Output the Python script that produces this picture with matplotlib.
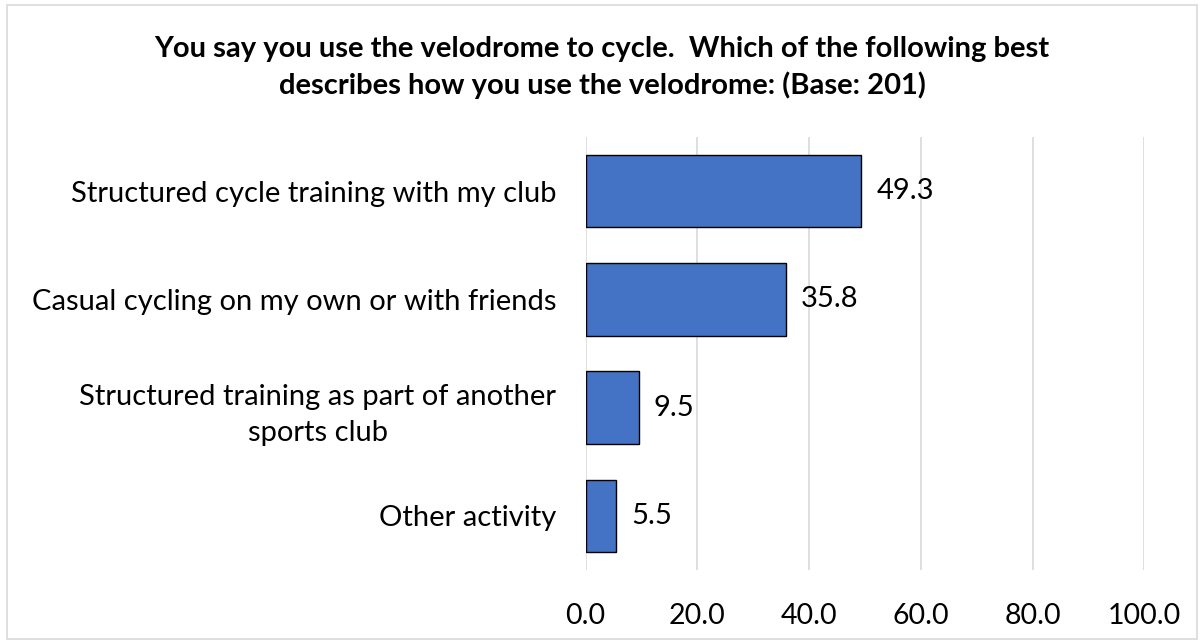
import matplotlib
matplotlib.use("Agg")
import matplotlib.pyplot as plt
from matplotlib.patches import Rectangle

categories = [
    "Structured cycle training with my club",
    "Casual cycling on my own or with friends",
    "Structured training as part of another\nsports club",
    "Other activity",
]
values = [49.3, 35.8, 9.5, 5.5]
xticks = [0, 20, 40, 60, 80, 100]
title = ("You say you use the velodrome to cycle.  Which of the following best\n"
         "describes how you use the velodrome: (Base: 201)")

plt.rcParams['font.family'] = ['Lato', 'DejaVu Sans']

fig = plt.figure(figsize=(12.04, 6.44), dpi=100)
ax = fig.add_axes([585.5/1204, 1-570/644, (1144.3-585.5)/1204, (570-137)/644])

ypos = list(range(len(categories)))
ax.barh(ypos, values, height=0.67, color='#4472C4', edgecolor='black', linewidth=1.0, zorder=3)
ax.set_ylim(len(categories)-0.5, -0.5)
ax.set_xlim(0, 100)
ax.set_xticks(xticks)
ax.set_xticklabels([f"{v:.1f}" for v in xticks], fontsize=20.5)
ax.set_yticks(ypos)
ax.set_yticklabels(categories, fontsize=21, multialignment='center')
for t in ax.get_yticklabels():
    t.set_linespacing(1.45)
ax.tick_params(axis='both', length=0)
ax.tick_params(axis='y', pad=21)
ax.tick_params(axis='x', pad=24)
ax.grid(axis='x', color='#D9D9D9', linewidth=1.2, zorder=0)
for s in ax.spines.values():
    s.set_visible(False)

for y, v in zip(ypos, values):
    ax.annotate(f"{v:.1f}", xy=(v, y), xytext=(11, 0), textcoords='offset points',
                va='center', ha='left', fontsize=21)

fig.text(0.5, 1-67.5/644, title, ha='center', va='center', fontsize=21,
         fontweight='bold', linespacing=1.39)

fig.patches.append(Rectangle((7/1204, 5/644), 1190/1204, 634/644, transform=fig.transFigure,
                             fill=False, edgecolor='#D9D9D9', linewidth=1.2))

fig.savefig("out.png", dpi=100)
